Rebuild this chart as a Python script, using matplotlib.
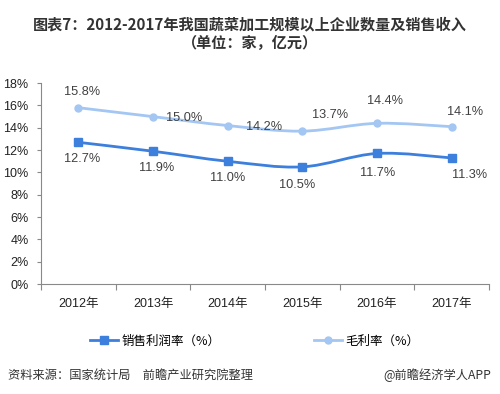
import matplotlib
matplotlib.use("Agg")
import matplotlib.pyplot as plt
from matplotlib.path import Path
from matplotlib.patches import PathPatch
from matplotlib.lines import Line2D

plt.rcParams['font.family'] = ['Liberation Sans', 'Noto Sans CJK SC', 'DejaVu Sans']

years = ['2012年', '2013年', '2014年', '2015年', '2016年', '2017年']
profit_rate = [12.7, 11.9, 11.0, 10.5, 11.7, 11.3]
gross_rate = [15.8, 15.0, 14.2, 13.7, 14.4, 14.1]

# label offsets in pixels (dx, dy)
profit_off = [(4, -17), (4, -17), (0, -17), (-5, -18), (1, -20), (18, -17)]
gross_off = [(4, 16), (31, -1), (36, -1), (28, 16), (8, 22), (13, 15)]

blue = '#3C7FDC'
light = '#A3C6F3'
txt = '#404040'


def smooth_path(xs, ys):
    # catmull-rom style bezier segments, like excel smoothed lines
    pts = list(zip(xs, ys))
    n = len(pts)
    verts = [pts[0]]
    codes = [Path.MOVETO]
    for i in range(n - 1):
        p0 = pts[i - 1] if i > 0 else pts[i]
        p1 = pts[i]
        p2 = pts[i + 1]
        p3 = pts[i + 2] if i + 2 < n else pts[i + 1]
        c1 = (p1[0] + (p2[0] - p0[0]) / 6, p1[1] + (p2[1] - p0[1]) / 6)
        c2 = (p2[0] - (p3[0] - p1[0]) / 6, p2[1] - (p3[1] - p1[1]) / 6)
        verts += [c1, c2, p2]
        codes += [Path.CURVE4] * 3
    return Path(verts, codes)


fig = plt.figure(figsize=(5, 3.94), dpi=100)
ax = fig.add_axes([0.082, 0.279, 0.896, 0.51])

x = list(range(len(years)))
for vals, col, mk, ms in [(gross_rate, light, 'o', 5), (profit_rate, blue, 's', 5.4)]:
    ax.add_patch(PathPatch(smooth_path(x, vals), fill=False, edgecolor=col, lw=2, zorder=2))
    ax.plot(x, vals, ls='none', marker=mk, ms=ms, color=col, zorder=3)

for i in x:
    ax.annotate('%.1f%%' % profit_rate[i], (i, profit_rate[i]), xytext=profit_off[i],
                textcoords='offset pixels', ha='center', va='center', fontsize=9.2, color=txt)
    ax.annotate('%.1f%%' % gross_rate[i], (i, gross_rate[i]), xytext=gross_off[i],
                textcoords='offset pixels', ha='center', va='center', fontsize=9.2, color=txt)

ax.set_xlim(-0.5, len(years) - 0.5)
ax.set_ylim(0, 18)
ax.set_yticks(range(0, 19, 2))
ax.set_yticklabels(['%d%%' % v for v in range(0, 19, 2)])
ax.set_xticks([i - 0.5 for i in range(len(years) + 1)])
ax.set_xticklabels([])
ax.set_xticks(x, minor=True)
ax.set_xticklabels(years, minor=True)
ax.tick_params(axis='x', which='major', length=4, color='#898989', direction='out')
ax.tick_params(axis='x', which='minor', length=0, pad=10, labelsize=9, labelcolor='#222222')
ax.tick_params(axis='y', length=3, color='#898989', pad=6, labelsize=9, labelcolor='#222222')
for s in ['top', 'right']:
    ax.spines[s].set_visible(False)
for s in ['left', 'bottom']:
    ax.spines[s].set_color('#898989')

fig.text(0.5, 1 - 24 / 394, '图表7：2012-2017年我国蔬菜加工规模以上企业数量及销售收入',
         ha='center', va='center', fontsize=10.9, fontweight='bold', color='#333333',
         family=['Noto Sans CJK SC', 'DejaVu Sans'])
fig.text(0.5, 1 - 43 / 394, '（单位：家，亿元）', ha='center', va='center', fontsize=10.9,
         fontweight='bold', color='#333333', family=['Noto Sans CJK SC', 'DejaVu Sans'])

handles = [Line2D([], [], color=blue, lw=2, marker='s', ms=5.4),
           Line2D([], [], color=light, lw=2, marker='o', ms=5)]
fig.legend(handles, ['销售利润率（%）', '毛利率（%）'], loc='center', ncol=2,
           bbox_to_anchor=(0.51, 1 - 341 / 394), frameon=False,
           handlelength=2.2, handletextpad=0.3, columnspacing=7.5,
           prop={'family': ['Noto Sans CJK SC', 'DejaVu Sans'], 'size': 9})

fig.text(8 / 500, 1 - 375 / 394, '资料来源：国家统计局　前瞻产业研究院整理', ha='left', va='center',
         fontsize=8.8, style='italic', color='#333333', family=['Noto Sans CJK SC', 'DejaVu Sans'])
fig.text(491 / 500, 1 - 375 / 394, '@前瞻经济学人APP', ha='right', va='center',
         fontsize=8.8, color='#333333', family=['Noto Sans CJK SC', 'DejaVu Sans'])

fig.savefig('out.png', dpi=100)
